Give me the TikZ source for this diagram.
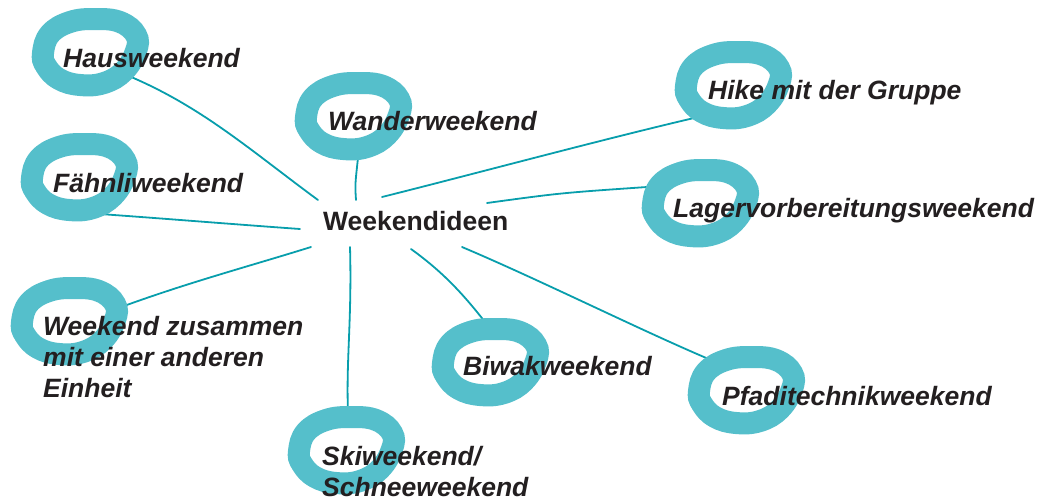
\documentclass[tikz,border=0pt]{standalone}
\usepackage{fontspec}
\setmainfont{Liberation Sans}
\definecolor{ringcyan}{RGB}{85,191,203}
\definecolor{linkteal}{RGB}{8,158,172}
\definecolor{ink}{RGB}{35,31,32}
\begin{document}
\begin{tikzpicture}[
    x=1pt, y=-1pt,
    ring/.pic={
      \path[draw=ringcyan, fill=white, line width=22pt]
        plot[smooth cycle, tension=0.7]
        coordinates{
          (-47,0) (-40,-19) (-20,-31) (5,-34) (30,-31) (46,-18)
          (46,-2) (34,18) (14,30) (-10,32) (-31,26) (-44,13)
        };
    },
    link/.style={draw=linkteal, line width=1.8pt, line cap=round},
    idea/.style={inner sep=0pt, anchor=base west, text=ink,
      font=\fontsize{26.5}{31}\selectfont\bfseries\itshape},
    hubtext/.style={inner sep=0pt, anchor=base west, text=ink,
      font=\fontsize{26.5}{31}\selectfont\bfseries},
]
    \useasboundingbox (0,0) rectangle (1047,501);

    % Central topic
    \node[hubtext] (hub) at (323,230) {Weekendideen};

    % Ends of the branches next to the centre
    \coordinate (hub-haus)   at (318,200);
    \coordinate (hub-faehn)  at (300,229);
    \coordinate (hub-wander) at (356,200);
    \coordinate (hub-hike)   at (382,197);
    \coordinate (hub-lager)  at (487,203);
    \coordinate (hub-zus)    at (311,247);
    \coordinate (hub-ski)    at (350,247);
    \coordinate (hub-biwak)  at (411,249);
    \coordinate (hub-pfadi)  at (462,247);

    % Ends of the branches at the rings
    \coordinate (end-haus)   at (124,74);
    \coordinate (end-faehn)  at (100,214);
    \coordinate (end-wander) at (358,158);
    \coordinate (end-hike)   at (694,118);
    \coordinate (end-lager)  at (647,187);
    \coordinate (end-zus)    at (124,306);
    \coordinate (end-ski)    at (348,412);
    \coordinate (end-biwak)  at (485,322);
    \coordinate (end-pfadi)  at (711,360);

    % Branches (hand drawn look)
    \draw[link] (hub-haus) .. controls (250,150) and (200,105) .. (end-haus);
    \draw[link] (hub-faehn) .. controls (230,224) and (170,219) .. (end-faehn);
    \draw[link] (hub-wander) .. controls (355,185) .. (end-wander);
    \draw[link] (hub-hike) .. controls (470,175) and (600,140) .. (end-hike);
    \draw[link] (hub-lager) .. controls (560,193) .. (end-lager);
    \draw[link] (hub-zus) .. controls (250,266) and (190,282) .. (end-zus);
    \draw[link] (hub-ski) .. controls (352,320) and (346,360) .. (end-ski);
    \draw[link] (hub-biwak) .. controls (440,270) and (460,290) .. (end-biwak);
    \draw[link] (hub-pfadi) .. controls (540,280) and (640,330) .. (end-pfadi);

    % Hand drawn rings
    \pic at (90,53)   {ring};
    \pic at (79,178)  {ring};
    \pic at (353,117) {ring};
    \pic at (733,86)  {ring};
    \pic at (700,204) {ring};
    \pic at (69,322)  {ring};
    \pic at (490,363) {ring};
    \pic at (346,451) {ring};
    \pic at (746,391) {ring};

    % Ideas
    \node[idea] (haus)   at (63,67)   {Hausweekend};
    \node[idea] (faehn)  at (53,192)  {Fähnliweekend};
    \node[idea] (wander) at (328,130) {Wanderweekend};
    \node[idea] (hike)   at (708,99)  {Hike mit der Gruppe};
    \node[idea] (lager)  at (673,217) {Lagervorbereitungsweekend};
    \node[idea, anchor=north west, align=left] (zus) at (43,316)
      {Weekend zusammen\\mit einer anderen\\Einheit};
    \node[idea] (biwak)  at (463,375) {Biwakweekend};
    \node[idea, anchor=north west, align=left] (ski) at (322,446)
      {Skiweekend/\\Schneeweekend};
    \node[idea] (pfadi)  at (722,405) {Pfaditechnikweekend};
\end{tikzpicture}
\end{document}
